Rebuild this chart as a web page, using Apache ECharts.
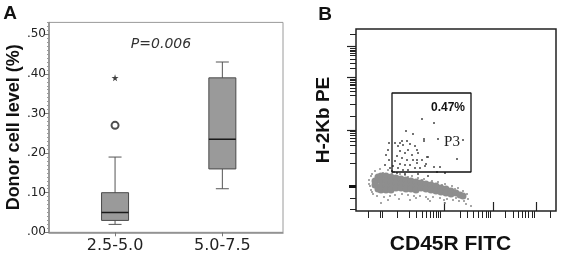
<!DOCTYPE html>
<html>
<head>
<meta charset="utf-8">
<title>Donor cell level / CD45R FITC vs H-2Kb PE</title>
<script src="https://cdn.jsdelivr.net/npm/echarts@6/dist/echarts.min.js"></script>
<style>
  html, body { margin: 0; padding: 0; background: #fff; }
  #chart { width: 561px; height: 257px; }
</style>
</head>
<body>
<div id="chart"></div>
<script>
// ---- panel A : box plot ----
const groups = ['2.5-5.0', '5.0-7.5'];
const whiskerLow = [0.02, 0.11];
const q1 = [0.03, 0.16];
const medians = [0.05, 0.235];
const q3 = [0.10, 0.39];
const whiskerHigh = [0.19, 0.43];
const outliers = [[0, 0.27]];   // circles
const extremes = [[0, 0.39]];   // stars
const yTicksA = [0, 0.1, 0.2, 0.3, 0.4, 0.5];

// ---- panel B : flow plot (axis units 0-200 x, 0-182 y, no printed scale) ----
const xTicksB = [12, 24, 26, 41, 53, 60, 66, 70, 74, 77, 80, 82, 84, 104, 111, 117, 122, 126, 130, 132, 134, 149, 157, 162, 166, 169, 172, 176, 178, 194];
const xLongTicksB = [88, 137, 180];
const yTicksB = [177, 163, 161, 160, 158, 156, 152, 148, 143, 132, 131, 129, 127, 126, 123, 120, 116, 107, 95, 80, 78, 76, 73, 70, 66, 58, 48, 13, 2];
const yLongTicksB = [165, 134, 81];
const yThickTicksB = [25];
const gateX = [36, 115];
const gateY = [39, 118];

// main cell population (dense core)
const cloudCore = [
  [19, 30], [19, 26],
  [22, 34], [22, 22],
  [25, 35], [25, 30], [25, 25], [25, 21],
  [30, 35], [30, 30], [30, 25], [30, 21],
  [35, 34], [35, 29], [35, 24], [35, 21],
  [40, 33], [40, 28], [40, 23],
  [45, 32], [45, 27], [45, 23],
  [50, 31], [50, 26], [50, 22],
  [55, 30], [55, 25], [55, 22],
  [60, 29], [60, 24], [60, 21],
  [65, 28], [65, 23],
  [70, 27], [70, 22],
  [75, 26], [75, 21],
  [80, 25], [80, 20],
  [85, 23], [85, 19],
  [90, 22], [90, 18],
  [95, 20], [95, 17],
  [100, 18], [104, 16], [107, 15]
];
// scattered events round the core
const cloudEdge = [
  [13, 31], [14, 25], [15, 21], [17, 17], [21, 15], [28, 14], [34, 15], [39, 16], [46, 17], [52, 16],
  [58, 15], [64, 15], [70, 14], [77, 14], [84, 13], [91, 12], [97, 11], [103, 10], [108, 10], [112, 12],
  [16, 37], [19, 40], [24, 42], [32, 41], [38, 39], [44, 37], [49, 36], [56, 35], [62, 33], [68, 32],
  [76, 30], [82, 29], [89, 27], [96, 25], [102, 23], [107, 20], [111, 17], [110, 7], [115, 5], [25, 8],
  [32, 11], [43, 12], [54, 11], [74, 10], [89, 8], [15, 35], [13, 27], [16, 19], [27, 38], [36, 38],
  [52, 34], [66, 31], [86, 26], [99, 22], [60, 13], [72, 12], [88, 11], [100, 13]
];
// events inside / near the P3 gate
const gateEvents = [
  [66, 92], [78, 88], [50, 80], [57, 77], [68, 72], [68, 70], [82, 72], [107, 71], [101, 52], [46, 70],
  [44, 68], [33, 68], [84, 44], [78, 44], [71, 54], [61, 51], [70, 47], [72, 54],
  [39, 68], [42, 65], [47, 66], [51, 70], [54, 67], [59, 65], [61, 61], [44, 60], [49, 58], [52, 61],
  [56, 56], [62, 58], [41, 55], [46, 53], [51, 51], [57, 51], [39, 50], [44, 47], [49, 46], [54, 46],
  [61, 48], [66, 51], [37, 45], [42, 43], [47, 41], [52, 41], [59, 43], [36, 40], [41, 38], [64, 43],
  [69, 45], [32, 61], [30, 56], [33, 51], [29, 46], [34, 43], [49, 37], [62, 37], [72, 35], [81, 39],
  [89, 38]
];

const minorTicksA = [];
for (let i = 1; i <= 53; i++) {
  if (i % 10 !== 0) minorTicksA.push(i / 100);
}

const boxData = groups.map((g, i) => [i, whiskerLow[i], q1[i], medians[i], q3[i], whiskerHigh[i]]);
const gateLine = [
  [gateX[0], gateY[0]], [gateX[1], gateY[0]], [gateX[1], gateY[1]], [gateX[0], gateY[1]], [gateX[0], gateY[0]]
];

const STAR = 'path://M50,0 L61,35 L98,35 L68,57 L79,91 L50,70 L21,91 L32,57 L2,35 L39,35 Z';

function renderBox(params, api) {
  const x = api.value(0);
  const lo = api.coord([x, api.value(1)]);
  const b1 = api.coord([x, api.value(2)]);
  const md = api.coord([x, api.value(3)]);
  const b3 = api.coord([x, api.value(4)]);
  const hi = api.coord([x, api.value(5)]);
  const half = 13.5;
  const cap = 6.5;
  const whisk = { stroke: '#555', lineWidth: 1 };
  return {
    type: 'group',
    children: [
      { type: 'line', shape: { x1: lo[0], y1: lo[1], x2: hi[0], y2: hi[1] }, style: whisk },
      { type: 'line', shape: { x1: lo[0] - cap, y1: lo[1], x2: lo[0] + cap, y2: lo[1] }, style: whisk },
      { type: 'line', shape: { x1: hi[0] - cap, y1: hi[1], x2: hi[0] + cap, y2: hi[1] }, style: whisk },
      { type: 'rect', shape: { x: b3[0] - half, y: b3[1], width: half * 2, height: b1[1] - b3[1] },
        style: { fill: '#9a9a9a', stroke: '#4a4a4a', lineWidth: 1 } },
      { type: 'line', shape: { x1: md[0] - half, y1: md[1], x2: md[0] + half, y2: md[1] },
        style: { stroke: '#1a1a1a', lineWidth: 1.5 } }
    ]
  };
}

const chart = echarts.init(document.getElementById('chart'), null, { renderer: 'canvas' });

const option = {
  animation: false,
  backgroundColor: '#fff',
  grid: [
    { left: 49, top: 22.4, width: 234, height: 209.9, show: true, borderColor: '#9a9a9a', borderWidth: 1, outerBoundsMode: 'none' },
    { left: 61.4, top: 22.4, width: 214.6, height: 209.9, outerBoundsMode: 'none' },
    { left: 356, top: 29, width: 200, height: 182, show: true, borderColor: '#222', borderWidth: 1.5, outerBoundsMode: 'none' }
  ],
  xAxis: [
    { gridIndex: 0, type: 'value', min: 0, max: 1,
      axisLine: { show: true, lineStyle: { color: '#8a8a8a', width: 1.5 } },
      axisTick: { show: false }, axisLabel: { show: false }, splitLine: { show: false } },
    { gridIndex: 1, type: 'category', data: groups, boundaryGap: true,
      axisLine: { show: false },
      axisTick: { show: true, alignWithLabel: true, length: 4, lineStyle: { color: '#777' } },
      axisLabel: { margin: 6, fontSize: 16, color: '#222', fontFamily: 'DejaVu Sans' },
      splitLine: { show: false } },
    { gridIndex: 2, type: 'value', min: 0, max: 200,
      axisLine: { show: false }, axisLabel: { show: false }, splitLine: { show: false },
      axisTick: { show: true, customValues: xTicksB, length: 7, lineStyle: { color: '#222', width: 1 } },
      name: 'CD45R FITC', nameLocation: 'middle', nameGap: 23,
      nameTextStyle: { fontFamily: 'Liberation Sans', fontWeight: 'bold', fontSize: 21, color: '#111', padding: [0, 11, 0, 0] } },
    { gridIndex: 2, type: 'value', min: 0, max: 200,
      axisLine: { show: false }, axisLabel: { show: false }, splitLine: { show: false },
      axisTick: { show: true, customValues: xLongTicksB, length: 9, lineStyle: { color: '#222', width: 1.2 } } }
  ],
  yAxis: [
    { gridIndex: 0, type: 'value', position: 'left', min: 0, max: 0.53,
      axisLine: { show: true, lineStyle: { color: '#8a8a8a', width: 1.5 } },
      axisTick: { show: true, customValues: yTicksA, length: 4, lineStyle: { color: '#777' } },
      axisLabel: { customValues: yTicksA, margin: 3, fontSize: 12, color: '#222', fontFamily: 'DejaVu Sans',
        formatter: v => v.toFixed(2).replace(/^0/, '') },
      splitLine: { show: false },
      name: 'Donor cell level (%)', nameLocation: 'middle', nameGap: 24,
      nameTextStyle: { fontFamily: 'Liberation Sans', fontWeight: 'bold', fontSize: 18, color: '#111' } },
    { gridIndex: 0, type: 'value', position: 'left', min: 0, max: 0.53,
      axisLine: { show: false }, axisLabel: { show: false }, splitLine: { show: false },
      axisTick: { show: true, customValues: minorTicksA, length: 2, lineStyle: { color: '#999' } } },
    { gridIndex: 1, type: 'value', min: 0, max: 0.53, show: false },
    { gridIndex: 2, type: 'value', position: 'left', min: 0, max: 182,
      axisLine: { show: false }, axisLabel: { show: false }, splitLine: { show: false },
      axisTick: { show: true, customValues: yTicksB, length: 6, lineStyle: { color: '#222', width: 1 } },
      name: 'H-2Kb PE', nameLocation: 'middle', nameGap: 23,
      nameTextStyle: { fontFamily: 'Liberation Sans', fontWeight: 'bold', fontSize: 19, color: '#111' } },
    { gridIndex: 2, type: 'value', position: 'left', min: 0, max: 182,
      axisLine: { show: false }, axisLabel: { show: false }, splitLine: { show: false },
      axisTick: { show: true, customValues: yLongTicksB, length: 9, lineStyle: { color: '#222', width: 1.2 } } },
    { gridIndex: 2, type: 'value', position: 'left', min: 0, max: 182,
      axisLine: { show: false }, axisLabel: { show: false }, splitLine: { show: false },
      axisTick: { show: true, customValues: yThickTicksB, length: 7, lineStyle: { color: '#111', width: 3 } } }
  ],
  series: [
    { type: 'custom', xAxisIndex: 1, yAxisIndex: 2, renderItem: renderBox,
      encode: { x: 0, y: [1, 2, 3, 4, 5] }, data: boxData, silent: true },
    { type: 'scatter', xAxisIndex: 1, yAxisIndex: 2, data: outliers, symbol: 'emptyCircle', symbolSize: 7,
      itemStyle: { color: '#222', borderWidth: 0.8 }, silent: true },
    { type: 'scatter', xAxisIndex: 1, yAxisIndex: 2, data: extremes, symbol: STAR, symbolSize: 7,
      itemStyle: { color: '#111' }, silent: true },
    { type: 'scatter', xAxisIndex: 2, yAxisIndex: 3, data: cloudCore, symbolSize: 7,
      itemStyle: { color: '#8e8e8e', opacity: 1 }, silent: true },
    { type: 'scatter', xAxisIndex: 2, yAxisIndex: 3, data: cloudEdge, symbolSize: 2,
      itemStyle: { color: '#8a8a8a', opacity: 1 }, silent: true },
    { type: 'scatter', xAxisIndex: 2, yAxisIndex: 3, data: gateEvents, symbolSize: 2,
      itemStyle: { color: '#444', opacity: 1 }, silent: true },
    { type: 'line', xAxisIndex: 2, yAxisIndex: 3, data: gateLine, symbol: 'none', silent: true,
      lineStyle: { color: '#111', width: 1.3 } }
  ],
  graphic: [
    { type: 'text', x: 10, y: 14, silent: true,
      style: { text: 'A', font: 'bold 19px "Liberation Sans"', fill: '#111', align: 'center', verticalAlign: 'middle' } },
    { type: 'text', x: 325, y: 15, silent: true,
      style: { text: 'B', font: 'bold 19px "Liberation Sans"', fill: '#111', align: 'center', verticalAlign: 'middle' } },
    { type: 'text', x: 161, y: 44, silent: true,
      style: { text: 'P=0.006', font: 'italic 14px "DejaVu Sans"', fill: '#333', align: 'center', verticalAlign: 'middle' } },
    { type: 'text', x: 448, y: 108, silent: true,
      style: { text: '0.47%', font: 'bold 12px "Liberation Sans"', fill: '#111', align: 'center', verticalAlign: 'middle' } },
    { type: 'text', x: 452, y: 142, silent: true,
      style: { text: 'P3', font: '15px "Liberation Serif"', fill: '#222', align: 'center', verticalAlign: 'middle' } }
  ]
};

chart.setOption(option);
window.addEventListener('resize', chart.resize);
</script>
</body>
</html>
